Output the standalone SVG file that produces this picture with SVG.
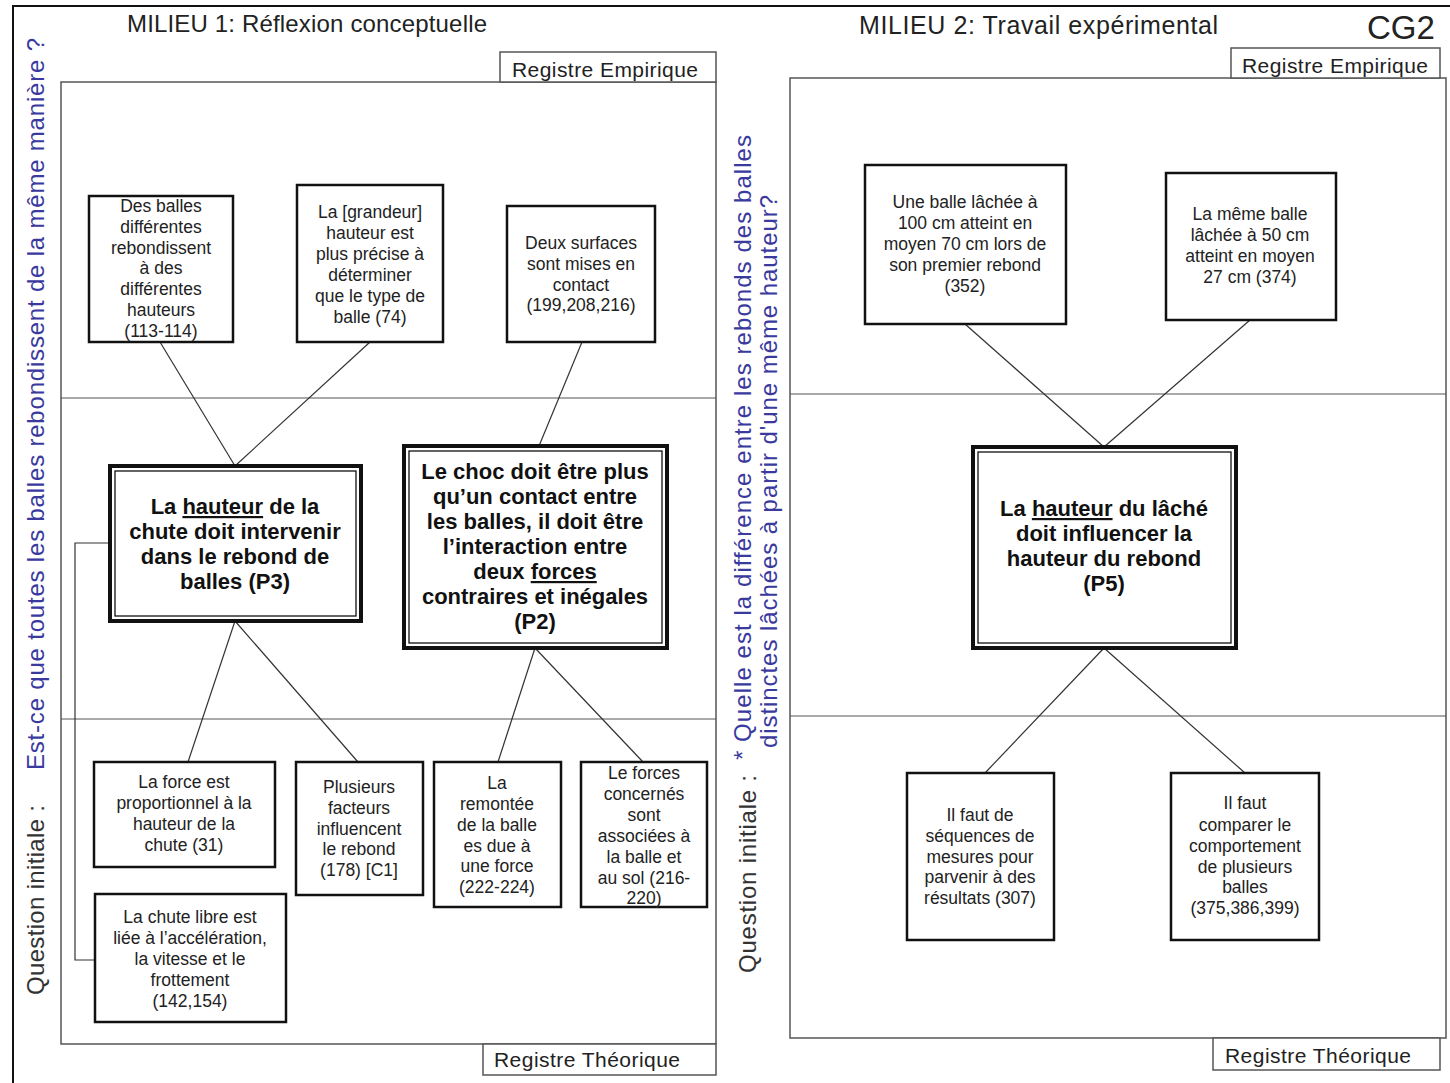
<svg xmlns="http://www.w3.org/2000/svg" width="1450" height="1083" viewBox="0 0 1450 1083">
<style>
text{font-family:"Liberation Sans",Arial,sans-serif;fill:#222}
.frame{fill:none;stroke:#555;stroke-width:1.5}
.tab{fill:#fff;stroke:#555;stroke-width:1.5}
.div{stroke:#555;stroke-width:1.2}
.box{fill:#fff;stroke:#111;stroke-width:2.5}
.pout{fill:#fff;stroke:#111;stroke-width:4}
.pin{fill:none;stroke:#111;stroke-width:1.3}
.t{font-size:17.5px;text-anchor:middle}
.b{font-size:22px;font-weight:bold;text-anchor:middle;fill:#111}
.reg{font-size:21px}
.title{font-size:24px}
.q{font-size:24px;fill:#333}
.qb{font-size:24px;fill:#3a3a9e}
.conn line,.conn polyline{stroke:#333;stroke-width:1.2;fill:none}
</style>
<rect width="1450" height="1083" fill="#fff"/>
<polyline points="13,1083 13,6 1450,6" fill="none" stroke="#111" stroke-width="2"/>

<!-- Left panel -->
<g id="panel1">
<rect class="frame" x="61" y="82" width="655" height="962"/>
<rect class="tab" x="500" y="52" width="216" height="30"/>
<rect class="tab" x="483" y="1044" width="233" height="31"/>
<line class="div" x1="61" y1="398" x2="716" y2="398"/>
<line class="div" x1="61" y1="719" x2="716" y2="719"/>
<text class="reg" x="512" y="77" textLength="186">Registre Empirique</text>
<text class="reg" x="494" y="1067" textLength="186">Registre Théorique</text>
<text class="title" x="127" y="32" textLength="360">MILIEU 1: Réflexion conceptuelle</text>
</g>

<!-- Right panel -->
<g id="panel2">
<rect class="frame" x="790" y="78" width="656" height="960"/>
<rect class="tab" x="1231" y="48" width="209" height="30"/>
<rect class="tab" x="1213" y="1038" width="227" height="32"/>
<line class="div" x1="790" y1="394" x2="1446" y2="394"/>
<line class="div" x1="790" y1="716" x2="1446" y2="716"/>
<text class="reg" x="1242" y="73" textLength="186">Registre Empirique</text>
<text class="reg" x="1225" y="1063" textLength="186">Registre Théorique</text>
<text class="title" x="859" y="34" style="font-size:25px" textLength="359">MILIEU 2: Travail expérimental</text>
<text x="1367" y="39" style="font-size:33px">CG2</text>
</g>

<!-- Questions -->
<g id="question1">
<text class="q" transform="translate(44,995) rotate(-90)" textLength="190">Question initiale :</text>
<text class="qb" transform="translate(44,770) rotate(-90)" textLength="732">Est-ce que toutes les balles rebondissent de la même manière ?</text>
</g>
<g id="question2">
<text class="q" transform="translate(756,973) rotate(-90)" textLength="198">Question initiale :</text>
<text class="qb" transform="translate(751,760) rotate(-90)" textLength="625">* Quelle est la différence entre les rebonds des balles</text>
<text class="qb" transform="translate(777,748) rotate(-90)" textLength="553">distinctes lâchées à partir d'une même hauteur?</text>
</g>

<!-- Connectors -->
<g id="connectors" class="conn">
<line x1="160" y1="342" x2="235" y2="466"/>
<line x1="370" y1="342" x2="235" y2="466"/>
<line x1="582" y1="342" x2="539" y2="446"/>
<line x1="235" y1="621" x2="188" y2="762"/>
<line x1="235" y1="621" x2="358" y2="762"/>
<line x1="535" y1="648" x2="498" y2="762"/>
<line x1="535" y1="648" x2="643" y2="762"/>
<polyline points="110,543 75,543 75,960 95,960"/>
<line x1="965" y1="324" x2="1104" y2="447"/>
<line x1="1250" y1="320" x2="1104" y2="447"/>
<line x1="1104" y1="648" x2="985" y2="773"/>
<line x1="1104" y1="648" x2="1245" y2="773"/>
</g>

<!-- Nodes left -->
<g id="n1">
<rect class="box" x="89" y="196" width="144" height="146"/>
<text class="t" x="161"><tspan x="161" y="212">Des balles</tspan><tspan x="161" y="233">différentes</tspan><tspan x="161" y="254">rebondissent</tspan><tspan x="161" y="274">à des</tspan><tspan x="161" y="295">différentes</tspan><tspan x="161" y="316">hauteurs</tspan><tspan x="161" y="337">(113-114)</tspan></text>
</g>
<g id="n2">
<rect class="box" x="297" y="185" width="146" height="157"/>
<text class="t" x="370"><tspan x="370" y="218">La [grandeur]</tspan><tspan x="370" y="239">hauteur est</tspan><tspan x="370" y="260">plus précise à</tspan><tspan x="370" y="281">déterminer</tspan><tspan x="370" y="302">que le type de</tspan><tspan x="370" y="323">balle (74)</tspan></text>
</g>
<g id="n3">
<rect class="box" x="507" y="206" width="148" height="136"/>
<text class="t" x="581"><tspan x="581" y="249">Deux surfaces</tspan><tspan x="581" y="270">sont mises en</tspan><tspan x="581" y="291">contact</tspan><tspan x="581" y="311">(199,208,216)</tspan></text>
</g>
<g id="p3">
<rect class="pout" x="110" y="466" width="251" height="155"/>
<rect class="pin" x="115" y="471" width="241" height="145"/>
<text class="b" x="235"><tspan x="235" y="514">La <tspan text-decoration="underline">hauteur</tspan> de la</tspan><tspan x="235" y="539">chute doit intervenir</tspan><tspan x="235" y="564">dans le rebond de</tspan><tspan x="235" y="589">balles (P3)</tspan></text>
</g>
<g id="p2">
<rect class="pout" x="404" y="446" width="263" height="202"/>
<rect class="pin" x="409" y="451" width="253" height="192"/>
<text class="b" x="535"><tspan x="535" y="479">Le choc doit être plus</tspan><tspan x="535" y="504">qu’un contact entre</tspan><tspan x="535" y="529">les balles, il doit être</tspan><tspan x="535" y="554">l’interaction entre</tspan><tspan x="535" y="579">deux <tspan text-decoration="underline">forces</tspan></tspan><tspan x="535" y="604">contraires et inégales</tspan><tspan x="535" y="629">(P2)</tspan></text>
</g>
<g id="b1">
<rect class="box" x="94" y="762" width="181" height="105"/>
<text class="t" x="184"><tspan x="184" y="788">La force est</tspan><tspan x="184" y="809">proportionnel  à la</tspan><tspan x="184" y="830">hauteur de la</tspan><tspan x="184" y="851">chute (31)</tspan></text>
</g>
<g id="b2">
<rect class="box" x="296" y="762" width="127" height="133"/>
<text class="t" x="359"><tspan x="359" y="793">Plusieurs</tspan><tspan x="359" y="814">facteurs</tspan><tspan x="359" y="835">influencent</tspan><tspan x="359" y="855">le rebond</tspan><tspan x="359" y="876">(178) [C1]</tspan></text>
</g>
<g id="b3">
<rect class="box" x="434" y="762" width="127" height="145"/>
<text class="t" x="497"><tspan x="497" y="789">La</tspan><tspan x="497" y="810">remontée</tspan><tspan x="497" y="831">de la balle</tspan><tspan x="497" y="852">es due à</tspan><tspan x="497" y="872">une force</tspan><tspan x="497" y="893">(222-224)</tspan></text>
</g>
<g id="b4">
<rect class="box" x="581" y="762" width="126" height="145"/>
<text class="t" x="644"><tspan x="644" y="779">Le forces</tspan><tspan x="644" y="800">concernés</tspan><tspan x="644" y="821">sont</tspan><tspan x="644" y="842">associées à</tspan><tspan x="644" y="863">la balle et</tspan><tspan x="644" y="884">au sol (216-</tspan><tspan x="644" y="904">220)</tspan></text>
</g>
<g id="b5">
<rect class="box" x="95" y="894" width="191" height="128"/>
<text class="t" x="190"><tspan x="190" y="923">La chute libre est</tspan><tspan x="190" y="944">liée à l’accélération,</tspan><tspan x="190" y="965">la vitesse et le</tspan><tspan x="190" y="986">frottement</tspan><tspan x="190" y="1007">(142,154)</tspan></text>
</g>

<!-- Nodes right -->
<g id="r1">
<rect class="box" x="865" y="165" width="201" height="159"/>
<text class="t" x="965"><tspan x="965" y="208">Une balle lâchée à</tspan><tspan x="965" y="229">100 cm atteint en</tspan><tspan x="965" y="250">moyen 70 cm lors de</tspan><tspan x="965" y="271">son premier rebond</tspan><tspan x="965" y="292">(352)</tspan></text>
</g>
<g id="r2">
<rect class="box" x="1166" y="173" width="170" height="147"/>
<text class="t" x="1250"><tspan x="1250" y="220">La même balle</tspan><tspan x="1250" y="241">lâchée à 50 cm</tspan><tspan x="1250" y="262">atteint en moyen</tspan><tspan x="1250" y="283">27 cm (374)</tspan></text>
</g>
<g id="p5">
<rect class="pout" x="973" y="447" width="263" height="201"/>
<rect class="pin" x="978" y="452" width="253" height="191"/>
<text class="b" x="1104"><tspan x="1104" y="516">La <tspan text-decoration="underline">hauteur</tspan> du lâché</tspan><tspan x="1104" y="541">doit influencer la</tspan><tspan x="1104" y="566">hauteur du rebond</tspan><tspan x="1104" y="591">(P5)</tspan></text>
</g>
<g id="r3">
<rect class="box" x="907" y="773" width="147" height="167"/>
<text class="t" x="980"><tspan x="980" y="821">Il faut de</tspan><tspan x="980" y="842">séquences de</tspan><tspan x="980" y="863">mesures pour</tspan><tspan x="980" y="883">parvenir à des</tspan><tspan x="980" y="904">résultats (307)</tspan></text>
</g>
<g id="r4">
<rect class="box" x="1171" y="773" width="148" height="167"/>
<text class="t" x="1245"><tspan x="1245" y="809">Il faut</tspan><tspan x="1245" y="831">comparer le</tspan><tspan x="1245" y="852">comportement</tspan><tspan x="1245" y="873">de plusieurs</tspan><tspan x="1245" y="893">balles</tspan><tspan x="1245" y="914">(375,386,399)</tspan></text>
</g>
</svg>
